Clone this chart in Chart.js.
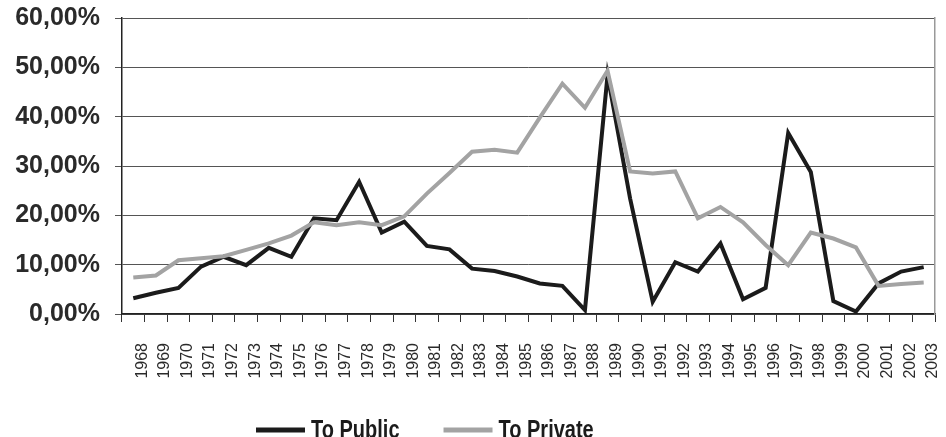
<!DOCTYPE html>
<html>
<head>
<meta charset="utf-8">
<script src="https://cdn.jsdelivr.net/npm/chart.js@4"></script>
<style>
  body { margin: 0; background: #fff; }
  #wrap { width: 946px; height: 437px; position: relative; }
</style>
</head>
<body>
<div id="wrap"><canvas id="myChart"></canvas></div>
<script>
// years on the category axis
var years = ['1968','1969','1970','1971','1972','1973','1974','1975','1976','1977',
  '1978','1979','1980','1981','1982','1983','1984','1985','1986','1987','1988',
  '1989','1990','1991','1992','1993','1994','1995','1996','1997','1998','1999',
  '2000','2001','2002','2003'];

// shares in percent
var toPublic = [3.2, 4.3, 5.3, 9.6, 11.6, 9.9, 13.4, 11.6, 19.4, 19.0, 26.8, 16.5,
  18.7, 13.8, 13.1, 9.2, 8.7, 7.6, 6.2, 5.7, 0.8, 48.4, 23.4, 2.5, 10.5, 8.6,
  14.3, 3.0, 5.3, 36.7, 28.8, 2.6, 0.5, 6.2, 8.6, 9.5];
var toPrivate = [7.4, 7.8, 10.9, 11.3, 11.7, 13.0, 14.3, 15.9, 18.6, 18.0, 18.6, 18.0,
  19.8, 24.4, 28.6, 32.9, 33.3, 32.7, 39.8, 46.7, 41.8, 49.3, 28.9, 28.5, 28.9, 19.4,
  21.7, 18.6, 14.0, 9.9, 16.5, 15.3, 13.5, 5.7, 6.1, 6.4];

var yTicks = [0, 10, 20, 30, 40, 50, 60];

var seriesNames = ['To Public', 'To Private'];
var seriesColors = ['#1b1b1b', '#a3a3a3'];

// legend drawn under the axis labels (text squeezed a bit horizontally)
var bottomLegend = {
  id: 'bottomLegend',
  afterDraw: function(chart) {
    var ctx = chart.ctx;
    var x = chart.chartArea.left + 134;
    var y = 430;
    var squeeze = 0.8;
    ctx.save();
    ctx.font = 'bold 25px "Liberation Sans", Arial, sans-serif';
    ctx.textBaseline = 'alphabetic';
    chart.data.datasets.forEach(function(ds) {
      ctx.fillStyle = ds.borderColor;
      ctx.fillRect(x, y - 2.5, 49, 5);
      x += 55;
      ctx.fillStyle = '#1b1b1b';
      ctx.save();
      ctx.translate(x, 438);
      ctx.scale(squeeze, 1);
      ctx.fillText(ds.label, 0, 0);
      ctx.restore();
      x += ctx.measureText(ds.label).width * squeeze + 44;
    });
    ctx.restore();
  }
};

function noScalePadding(scale) {
  scale.paddingLeft = 0;
  scale.paddingRight = 0;
  scale.paddingTop = 0;
  scale.paddingBottom = 0;
}

var ctx = document.getElementById('myChart').getContext('2d');
var myChart = new Chart(ctx, {
  type: 'line',
  data: {
    labels: years,
    datasets: [{
      label: seriesNames[0],
      data: toPublic,
      borderColor: seriesColors[0],
      backgroundColor: seriesColors[0],
      borderWidth: 4,
      order: 1
    }, {
      label: seriesNames[1],
      data: toPrivate,
      borderColor: seriesColors[1],
      backgroundColor: seriesColors[1],
      borderWidth: 4,
      order: 0
    }]
  },
  options: {
    responsive: true,
    maintainAspectRatio: false,
    animation: false,
    layout: { padding: { top: 18, right: 11, bottom: 40, left: 0 } },
    elements: {
      point: { radius: 0, hoverRadius: 0 },
      line: { tension: 0, borderJoinStyle: 'miter', fill: false }
    },
    plugins: {
      legend: { display: false },
      tooltip: { enabled: false }
    },
    scales: {
      x: {
        offset: true,
        grid: { offset: true, drawOnChartArea: false, drawTicks: true, tickLength: 8, color: '#333', lineWidth: 1 },
        border: { color: '#222', width: 1.5 },
        ticks: {
          autoSkip: false,
          maxRotation: 90,
          minRotation: 90,
          padding: 21,
          labelOffset: 9,
          color: '#2a2a2a',
          font: { family: '"Liberation Sans", Arial, sans-serif', size: 16 }
        },
        afterFit: function(scale) {
          scale.height = 83;
          noScalePadding(scale);
        }
      },
      y: {
        min: 0,
        max: 60,
        afterBuildTicks: function(scale) {
          scale.ticks = yTicks.map(function(v) { return { value: v }; });
        },
        grid: { color: '#555', lineWidth: 1, tickLength: 7 },
        border: { color: '#222', width: 1.5 },
        ticks: {
          padding: 15,
          color: '#2a2a2a',
          font: { family: '"Liberation Sans", Arial, sans-serif', size: 25, weight: 'bold' },
          callback: function(v) { return v.toFixed(2).replace('.', ',') + '%'; }
        },
        afterFit: function(scale) {
          scale.width = 122;
          noScalePadding(scale);
        }
      },
      yRight: {
        position: 'right',
        min: 0,
        max: 60,
        grid: { display: false },
        ticks: { display: false },
        border: { display: true, color: '#999', width: 1.5 },
        afterFit: function(scale) {
          scale.width = 0;
          noScalePadding(scale);
        }
      }
    }
  },
  plugins: [bottomLegend]
});
</script>
</body>
</html>
